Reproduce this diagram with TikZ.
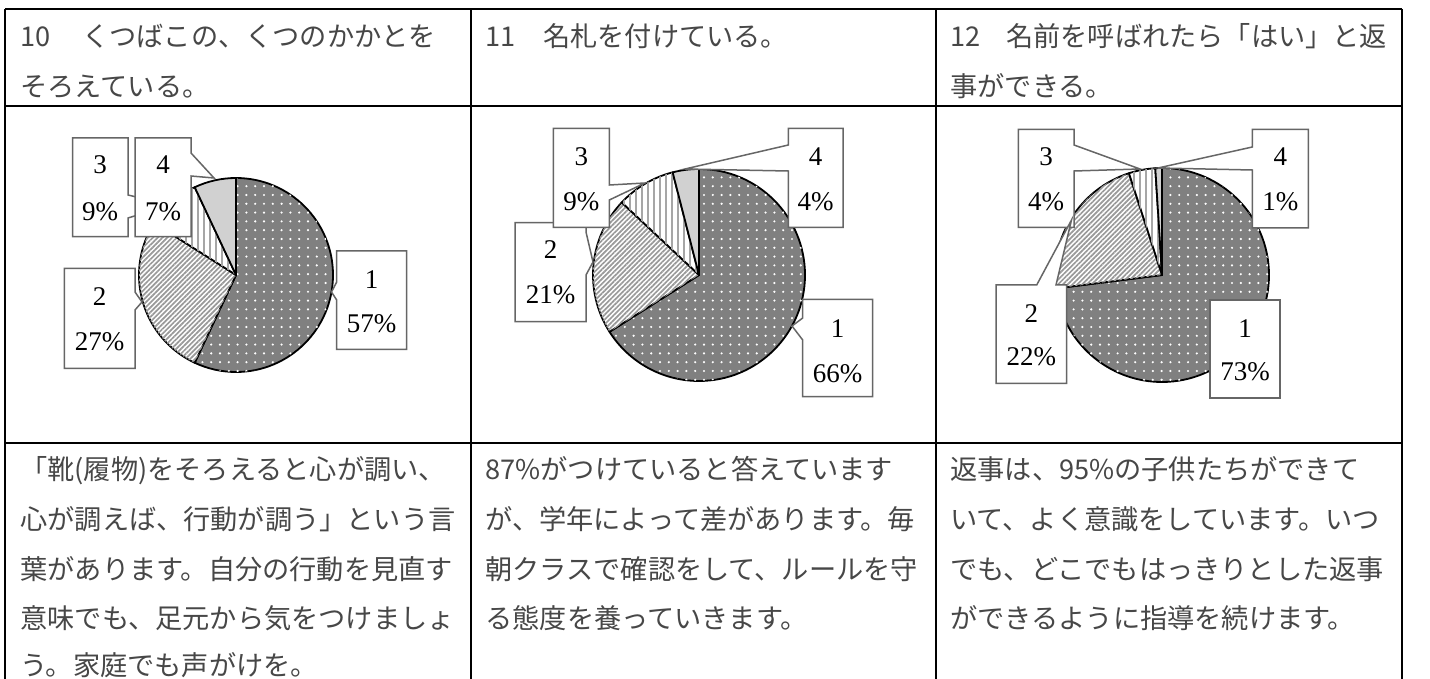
\documentclass[tikz,border=0pt]{standalone}
\usepackage{fontspec}
\newfontfamily\jp{Noto Sans CJK JP}
\newfontfamily\labfont{Liberation Serif}
\usetikzlibrary{patterns.meta}
\begin{document}
\begin{tikzpicture}[x=0.5pt,y=-0.5pt,
  tbl/.style={draw=black, line width=1pt},
  pieline/.style={draw=black, line width=0.9pt, line join=round},
  sone/.style={fill=black!50, postaction={pattern={Dots[radius=0.6pt,distance=4.4pt]}, pattern color=white}},
  stwo/.style={fill=white, postaction={pattern={Lines[angle=45,distance=1.7pt,line width=0.85pt]}, pattern color=black!40}},
  sthree/.style={fill=white, postaction={pattern={Lines[angle=90,distance=3pt,line width=0.9pt]}, pattern color=black!35}},
  sfour/.style={fill=black!18},
  lbox/.style={fill=white, draw=black!60, line width=0.75pt},
  lab/.style={font=\labfont\fontsize{13.5}{16}\selectfont, inner sep=0pt, text=black},
  jpt/.style={font=\jp\fontsize{13.6}{16}\selectfont, anchor=base west, inner sep=0pt, text=black!72}]
\useasboundingbox (0,0) rectangle (1430,679);
\fill[white] (0,0) rectangle (1430,679);

% ---------- chart 1 ----------
\begin{scope}[shift={(236,275)}, x=0.5pt, y=0.5pt]
  \path[sone, pieline] (0,0) -- (90:97) arc[start angle=90, end angle=-115.2, radius=97] -- cycle;
  \path[stwo, pieline] (0,0) -- (-115.2:97) arc[start angle=-115.2, end angle=-212.4, radius=97] -- cycle;
  \path[sthree, pieline] (0,0) -- (-212.4:97) arc[start angle=-212.4, end angle=-244.8, radius=97] -- cycle;
  \path[sfour, pieline] (0,0) -- (-244.8:97) arc[start angle=-244.8, end angle=-270, radius=97] -- cycle;
\end{scope}
\draw[lbox] (72.7,138) -- (128,138) -- (128,195) -- (170,205) -- (128,218) -- (128,236.7) -- (72.7,236.7) -- cycle;
\draw[lbox] (135,138) -- (191,138) -- (191,153) -- (214,178) -- (191,176) -- (191,236.7) -- (135,236.7) -- cycle;
\draw[lbox] (64.3,268.3) -- (135,268.3) -- (135,292) -- (142,302) -- (135,310) -- (135,368.3) -- (64.3,368.3) -- cycle;
\draw[lbox] (336.7,251) -- (406.7,251) -- (406.7,349.3) -- (336.7,349.3) -- (336.7,300) -- (331.5,292) -- (336.7,282) -- cycle;
\node[lab] (aL3n) at (100,165) {3};
\node[lab] (aL3p) at (100,211.7) {9\%};
\node[lab] (aL4n) at (163,165) {4};
\node[lab] (aL4p) at (163,211.7) {7\%};
\node[lab] (aL2n) at (99.7,296.7) {2};
\node[lab] (aL2p) at (99.7,341.7) {27\%};
\node[lab] (aL1n) at (371.7,279.3) {1};
\node[lab] (aL1p) at (371.7,323.3) {57\%};

% ---------- chart 2 ----------
\begin{scope}[shift={(699,275)}, x=0.5pt, y=0.5pt]
  \path[sone, pieline] (0,0) -- (90:106) arc[start angle=90, end angle=-147.6, radius=106] -- cycle;
  \path[stwo, pieline] (0,0) -- (-147.6:106) arc[start angle=-147.6, end angle=-223.2, radius=106] -- cycle;
  \path[sthree, pieline] (0,0) -- (-223.2:106) arc[start angle=-223.2, end angle=-255.6, radius=106] -- cycle;
  \path[sfour, pieline] (0,0) -- (-255.6:106) arc[start angle=-255.6, end angle=-270, radius=106] -- cycle;
\end{scope}
\draw[lbox] (515,222.7) -- (586,222.7) -- (586,232) -- (593,262) -- (586,275) -- (586,321.7) -- (515,321.7) -- cycle;
\draw[lbox] (553.3,128.3) -- (609.3,128.3) -- (609.3,185) -- (645,183) -- (609.3,200) -- (609.3,227.3) -- (553.3,227.3) -- cycle;
\draw[lbox] (788.3,128.3) -- (843,128.3) -- (843,227.3) -- (788.3,227.3) -- (788.3,171) -- (685,169) -- (788.3,145) -- cycle;
\draw[lbox] (802.7,299.3) -- (872.7,299.3) -- (872.7,396.7) -- (802.7,396.7) -- (802.7,340) -- (792,326) -- (802.7,318) -- cycle;
\node[lab] (bL3n) at (581.3,156.7) {3};
\node[lab] (bL3p) at (581.3,201.7) {9\%};
\node[lab] (bL4n) at (815.7,156.7) {4};
\node[lab] (bL4p) at (815.7,201.7) {4\%};
\node[lab] (bL2n) at (550.5,250) {2};
\node[lab] (bL2p) at (550.5,295) {21\%};
\node[lab] (bL1n) at (837.7,328.3) {1};
\node[lab] (bL1p) at (837.7,373.3) {66\%};

% ---------- chart 3 ----------
\begin{scope}[shift={(1162,275)}, x=0.5pt, y=0.5pt]
  \path[sone, pieline] (0,0) -- (90:107) arc[start angle=90, end angle=-172.8, radius=107] -- cycle;
  \path[stwo, pieline] (0,0) -- (-172.8:107) arc[start angle=-172.8, end angle=-252, radius=107] -- cycle;
  \path[sthree, pieline] (0,0) -- (-252:107) arc[start angle=-252, end angle=-266.4, radius=107] -- cycle;
  \path[sfour, pieline] (0,0) -- (-266.4:107) arc[start angle=-266.4, end angle=-270, radius=107] -- cycle;
\end{scope}
\draw[lbox] (1018.3,129.3) -- (1074,129.3) -- (1074,145) -- (1140,169) -- (1074,171) -- (1074,227.3) -- (1018.3,227.3) -- cycle;
\draw[lbox] (1252.3,129.3) -- (1308.3,129.3) -- (1308.3,228) -- (1252.3,228) -- (1252.3,170) -- (1158,168) -- (1252.3,147) -- cycle;
\draw[lbox] (996,285) -- (1036.7,285) -- (1071.5,220) -- (1056,285) -- (1066.7,285) -- (1066.7,383.3) -- (996,383.3) -- cycle;
\draw[lbox] (1210,300) -- (1280,300) -- (1280,398) -- (1210,398) -- cycle;
\node[lab] (cL3n) at (1046,156.7) {3};
\node[lab] (cL3p) at (1046,201.7) {4\%};
\node[lab] (cL4n) at (1280.3,156.7) {4};
\node[lab] (cL4p) at (1280.3,201.7) {1\%};
\node[lab] (cL2n) at (1031.3,313.3) {2};
\node[lab] (cL2p) at (1031.3,356.7) {22\%};
\node[lab] (cL1n) at (1245,328.3) {1};
\node[lab] (cL1p) at (1245,371.7) {73\%};

% ---------- headers ----------
\node[jpt] (h1a) at (20,47) {\makebox[31pt][l]{10}くつばこの、くつのかかとを};
\node[jpt] (h1b) at (20,97) {そろえている。};
\node[jpt] (h2a) at (485,47) {\makebox[29pt][l]{11}名札を付けている。};
\node[jpt] (h3a) at (950,47) {\makebox[28pt][l]{12}名前を呼ばれたら「はい」と返};
\node[jpt] (h3b) at (950,97) {事ができる。};

% ---------- comments ----------
\node[jpt] (p1a) at (20,479.5) {「靴(履物)をそろえると心が調い、};
\node[jpt] (p1b) at (20,529) {心が調えば、行動が調う」という言};
\node[jpt] (p1c) at (20,579) {葉があります。自分の行動を見直す};
\node[jpt] (p1d) at (20,628.5) {意味でも、足元から気をつけましょ};
\node[jpt] (p1e) at (20,675) {う。家庭でも声がけを。};
\node[jpt] (p2a) at (485,479.5) {87\%がつけていると答えています};
\node[jpt] (p2b) at (485,529) {が、学年によって差があります。毎};
\node[jpt] (p2c) at (485,579) {朝クラスで確認をして、ルールを守};
\node[jpt] (p2d) at (485,628.5) {る態度を養っていきます。};
\node[jpt] (p3a) at (950,479.5) {返事は、95\%の子供たちができて};
\node[jpt] (p3b) at (950,529) {いて、よく意識をしています。いつ};
\node[jpt] (p3c) at (950,579) {でも、どこでもはっきりとした返事};
\node[jpt] (p3d) at (950,628.5) {ができるように指導を続けます。};

% ---------- table ----------
\draw[tbl] (5,9) -- (1402,9);
\draw[tbl] (5,106) -- (1402,106);
\draw[tbl] (5,443) -- (1402,443);
\draw[tbl] (5,9) -- (5,679);
\draw[tbl] (471,9) -- (471,679);
\draw[tbl] (936,9) -- (936,679);
\draw[tbl] (1402,9) -- (1402,679);
\end{tikzpicture}
\end{document}
